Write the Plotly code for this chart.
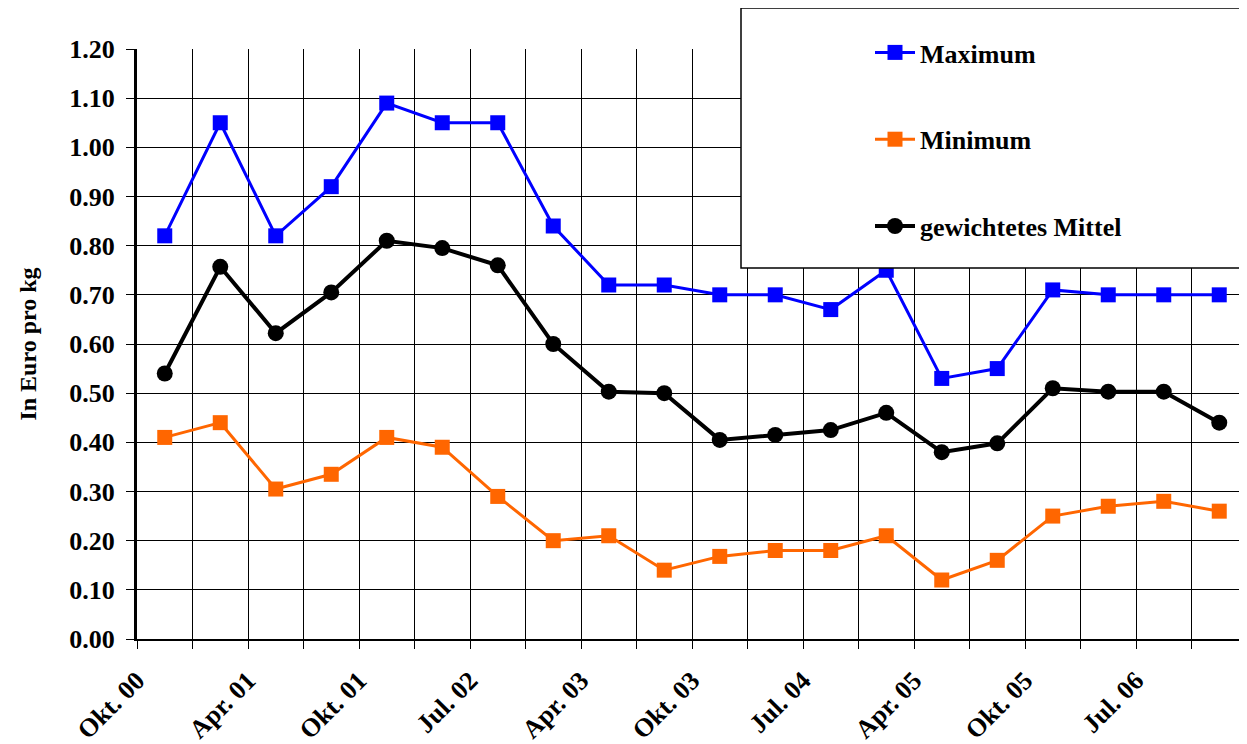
import plotly.graph_objects as go

# Data (20 periods, Okt. 00 - Jul. 06)
periods = list(range(20))
maximum = [0.82, 1.05, 0.82, 0.92, 1.09, 1.05, 1.05, 0.84, 0.72, 0.72,
           0.70, 0.70, 0.67, 0.75, 0.53, 0.55, 0.71, 0.70, 0.70, 0.70]
minimum = [0.41, 0.44, 0.305, 0.335, 0.41, 0.39, 0.29, 0.20, 0.21, 0.14,
           0.168, 0.18, 0.18, 0.21, 0.12, 0.16, 0.25, 0.27, 0.28, 0.26]
mittel = [0.54, 0.757, 0.622, 0.705, 0.81, 0.795, 0.76, 0.60, 0.503, 0.50,
          0.405, 0.415, 0.425, 0.46, 0.38, 0.398, 0.51, 0.503, 0.503, 0.44]
tick_labels = ["Okt. 00", "Apr. 01", "Okt. 01", "Jul. 02", "Apr. 03",
               "Okt. 03", "Jul. 04", "Apr. 05", "Okt. 05", "Jul. 06"]
tick_positions = [0, 2, 4, 6, 8, 10, 12, 14, 16, 18]

xc = [p + 0.5 for p in periods]
FONT = "Liberation Serif"

fig = go.Figure()
fig.add_trace(go.Scatter(x=xc, y=maximum, name="Maximum", mode="lines+markers",
                         line=dict(color="#0000FF", width=3),
                         marker=dict(symbol="square", size=15, color="#0000FF"),
                         legendgroup="a"))
fig.add_trace(go.Scatter(x=xc, y=minimum, name="Minimum", mode="lines+markers",
                         line=dict(color="#FF6600", width=3),
                         marker=dict(symbol="square", size=15, color="#FF6600"),
                         legendgroup="b"))
fig.add_trace(go.Scatter(x=xc, y=mittel, name="gewichtetes Mittel", mode="lines+markers",
                         line=dict(color="#000000", width=4),
                         marker=dict(symbol="circle", size=16, color="#000000"),
                         legendgroup="c"))

# page body has an 8px margin: compensate
OFF = 8
W, H = 1247 - OFF, 744 - OFF
L, R, T, B = 137 - OFF, 0, 49 - OFF, 105
pw = W - L - R
ph = H - T - B

def px_to_paper_x(px):
    return (px - OFF - L) / pw

def px_to_paper_y(py):
    return (H - B - (py - OFF)) / ph

fig.add_shape(type="rect", xref="paper", yref="paper",
              x0=px_to_paper_x(741), x1=1.0,
              y0=px_to_paper_y(268), y1=px_to_paper_y(8),
              fillcolor="white", line=dict(color="black", width=1.5), layer="above")

fig.update_layout(
    width=W, height=H,
    margin=dict(l=L, r=R, t=T, b=B, autoexpand=False),
    plot_bgcolor="white", paper_bgcolor="white",
    font=dict(family=FONT, color="black", size=22, weight="bold"),
    showlegend=True,
    legend=dict(x=px_to_paper_x(870), y=px_to_paper_y(29), xanchor="left", yanchor="top",
                bgcolor="rgba(0,0,0,0)", borderwidth=0,
                font=dict(family=FONT, size=26, color="black", weight="bold"),
                tracegroupgap=50, itemwidth=40),
)

fig.update_xaxes(range=[0, 20], tickmode="array", tickvals=tick_positions,
                 ticktext=tick_labels, tickangle=-45,
                 ticks="outside", ticklen=8, tickcolor="black",
                 showgrid=False, zeroline=False,
                 showline=True, linecolor="black", linewidth=2,
                 ticklabelstandoff=6,
                 tickfont=dict(family=FONT, size=26, color="black", weight="bold"),
                 minor=dict(tickmode="linear", tick0=0, dtick=1, ticks="outside",
                            ticklen=8, tickcolor="black", showgrid=True,
                            gridcolor="black", gridwidth=1))

fig.update_yaxes(range=[0, 1.2], tickmode="linear", tick0=0, dtick=0.1,
                 tickformat=".2f", ticks="outside", ticklen=8, tickcolor="black",
                 showgrid=True, gridcolor="black", gridwidth=1, zeroline=False,
                 showline=True, linecolor="black", linewidth=3,
                 ticklabelstandoff=6,
                 tickfont=dict(family=FONT, size=26, color="black", weight="bold"),
                 title=dict(text="In Euro pro kg", standoff=26,
                            font=dict(family=FONT, size=24, color="black", weight="bold")))

fig.write_html("out.html")
